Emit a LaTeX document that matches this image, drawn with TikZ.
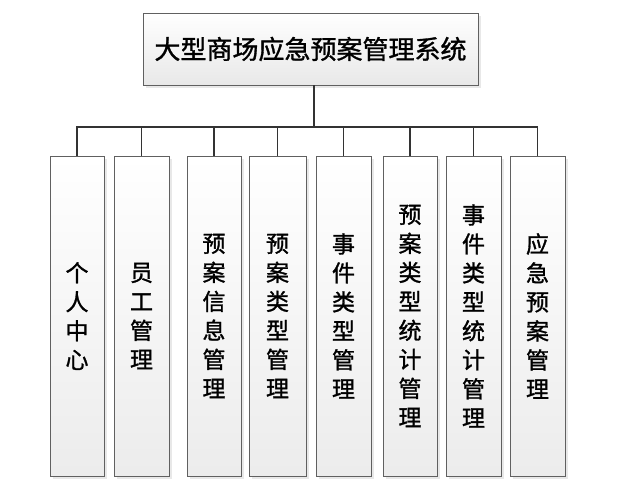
\documentclass[tikz,border=0pt]{standalone}
\usepackage{fontspec}
\newfontfamily\cjk[FakeBold=1.2]{Noto Sans CJK SC}
\usepackage{tikz}
\usetikzlibrary{positioning, shadows}

\begin{document}
\begin{tikzpicture}[
    x=1pt, y=1pt,
    sysbox/.style={rectangle, draw=gray!75!black, line width=0.9pt, top color=white, bottom color=gray!18,
        drop shadow={shadow xshift=3pt, shadow yshift=-3pt, fill=gray!35},
        minimum width=335pt, minimum height=72pt, font=\cjk\fontsize{26}{30}\selectfont},
    modbox/.style={rectangle, draw=gray!75!black, line width=0.9pt, top color=white, bottom color=gray!15,
        drop shadow={shadow xshift=3pt, shadow yshift=-3pt, fill=gray!35},
        minimum width=54pt, minimum height=320pt, text width=26pt, align=center, inner sep=0pt,
        font=\cjk\fontsize{23}{29}\selectfont},
    link/.style={draw=black!80, line width=1.3pt}
]
    \useasboundingbox (0,0) rectangle (620,-489);

    % 系统
    \node[sysbox] (sys) at (310.5,-49) {大型商场应急预案管理系统};

    % 功能模块
    \node[modbox] (m1) at (77,-316) {个\\人\\中\\心};
    \node[modbox, minimum width=55pt] (m2) at (141.5,-316) {员\\工\\管\\理};
    \node[modbox] (m3) at (214,-316) {预\\案\\信\\息\\管\\理};
    \node[modbox, minimum width=57pt] (m4) at (277.5,-316) {预\\案\\类\\型\\管\\理};
    \node[modbox, minimum width=55pt] (m5) at (343.5,-316) {事\\件\\类\\型\\管\\理};
    \node[modbox] (m6) at (410,-316) {预\\案\\类\\型\\统\\计\\管\\理};
    \node[modbox, minimum width=55pt] (m7) at (473.5,-316) {事\\件\\类\\型\\统\\计\\管\\理};
    \node[modbox, minimum width=55pt] (m8) at (537.5,-316) {应\\急\\预\\案\\管\\理};

    % 连线
    \coordinate (bus) at (314,-127);
    \draw[link] (sys.south -| bus) -- (bus);
    \draw[link] (bus) -| (m1.north);
    \draw[link] (bus) -| (m2.north);
    \draw[link] (bus) -| (m3.north);
    \draw[link] (bus) -| (m4.north);
    \draw[link] (bus) -| (m5.north);
    \draw[link] (bus) -| (m6.north);
    \draw[link] (bus) -| (m7.north);
    \draw[link] (bus) -| (m8.north);
\end{tikzpicture}
\end{document}
